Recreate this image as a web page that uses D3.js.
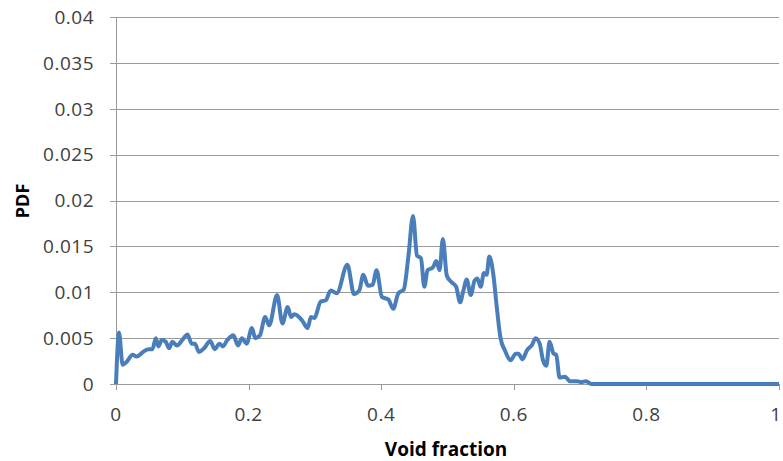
<!DOCTYPE html>
<html><head><meta charset="utf-8">
<script src="https://cdn.jsdelivr.net/npm/d3@7"></script>
<style>body{margin:0;background:#fff}svg{display:block}text{font-family:"Open Sans",sans-serif;fill:#404040}</style>
</head><body><svg id="c" width="783" height="461"></svg>
<script>
const voidFraction = [0,0.0045,0.010,0.016,0.025,0.031,0.041,0.049,0.055,0.060,0.064,0.069,0.075,0.080,0.085,0.092,0.101,0.108,0.114,0.119,0.125,0.133,0.142,0.149,0.156,0.161,0.168,0.177,0.184,0.190,0.197,0.205,0.210,0.217,0.225,0.231,0.243,0.251,0.259,0.264,0.269,0.281,0.289,0.294,0.299,0.309,0.316,0.324,0.333,0.349,0.359,0.367,0.373,0.380,0.387,0.393,0.401,0.411,0.418,0.426,0.434,0.441,0.448,0.454,0.460,0.465,0.470,0.478,0.483,0.488,0.493,0.499,0.506,0.513,0.519,0.524,0.529,0.535,0.541,0.545,0.550,0.555,0.559,0.563,0.569,0.574,0.580,0.587,0.595,0.603,0.607,0.613,0.620,0.627,0.633,0.639,0.644,0.649,0.654,0.660,0.664,0.669,0.677,0.685,0.695,0.702,0.709,0.717,0.75,0.8,0.85,0.9,0.95,1.0];
const pdf = [0,0.0056,0.0021,0.0024,0.0032,0.0030,0.0035,0.0038,0.0038,0.0050,0.0041,0.0048,0.0046,0.0039,0.0046,0.0042,0.0049,0.0054,0.0044,0.0044,0.0035,0.0039,0.0047,0.0038,0.0044,0.0041,0.0048,0.0053,0.0042,0.0050,0.0044,0.0061,0.0050,0.0053,0.0073,0.0064,0.0097,0.0066,0.0084,0.0073,0.0076,0.0069,0.0061,0.0073,0.0072,0.0090,0.0091,0.0102,0.0099,0.0130,0.0098,0.0102,0.0119,0.0107,0.0108,0.0124,0.0095,0.0092,0.0082,0.0099,0.0103,0.0139,0.0183,0.0140,0.0137,0.0106,0.0124,0.0127,0.0134,0.0124,0.0158,0.0118,0.0111,0.0106,0.0089,0.0102,0.0114,0.0097,0.0113,0.0115,0.0106,0.0121,0.0119,0.0139,0.0120,0.0086,0.0050,0.0036,0.0026,0.0033,0.0033,0.0027,0.0037,0.0042,0.0050,0.0044,0.0026,0.0020,0.0046,0.0033,0.0032,0.0007,0.0008,0.0003,0.0003,0.0002,0.0003,0,0,0,0,0,0,0];
const xTicks = [0,0.2,0.4,0.6,0.8,1];
const yTicks = [0,0.005,0.01,0.015,0.02,0.025,0.03,0.035,0.04];
const xTitle = "Void fraction", yTitle = "PDF";

const svg = d3.select("#c");
const x = d3.scaleLinear().domain([0,1]).range([116,779]);
const y = d3.scaleLinear().domain([0,0.04]).range([384,17]);
const grid = "#9a9a9a";

svg.append("g").selectAll("line").data(yTicks).join("line")
  .attr("x1",110).attr("x2",779).attr("y1",d=>Math.round(y(d))+0.5).attr("y2",d=>Math.round(y(d))+0.5)
  .attr("stroke",grid).attr("stroke-width",1);
svg.append("line").attr("x1",116.5).attr("x2",116.5).attr("y1",Math.round(y(0.04))).attr("y2",384)
  .attr("stroke",grid);
svg.append("g").selectAll("line").data(xTicks).join("line")
  .attr("x1",d=>Math.round(x(d))+0.5).attr("x2",d=>Math.round(x(d))+0.5).attr("y1",384).attr("y2",390)
  .attr("stroke",grid);

svg.append("g").selectAll("text").data(yTicks).join("text")
  .attr("x",94).attr("y",d=>y(d)).attr("dy","0.36em").attr("text-anchor","end")
  .style("font-size","19px").style("letter-spacing","0.5px").text(d=>d3.format("")(d));
svg.append("g").selectAll("text").data(xTicks).join("text")
  .attr("x",d=>Math.min(x(d),776)).attr("y",421).attr("text-anchor","middle")
  .style("font-size","19px").style("letter-spacing","0.5px").text(d=>String(d));

svg.append("text").attr("x",446).attr("y",456).attr("text-anchor","middle")
  .style("font-size","19px").style("font-weight","bold").style("fill","#000").text(xTitle);
svg.append("text").attr("transform","translate(29,201) rotate(-90)").attr("text-anchor","middle")
  .style("font-size","18px").style("font-weight","bold").style("fill","#000").text(yTitle);

const line = d3.line().x((d,i)=>x(voidFraction[i])).y(d=>y(d)).curve(d3.curveMonotoneX);
svg.append("path").attr("d",line(pdf)).attr("fill","none")
  .attr("stroke","#4a7ebb").attr("stroke-width",4).attr("stroke-linejoin","round");
</script></body></html>
